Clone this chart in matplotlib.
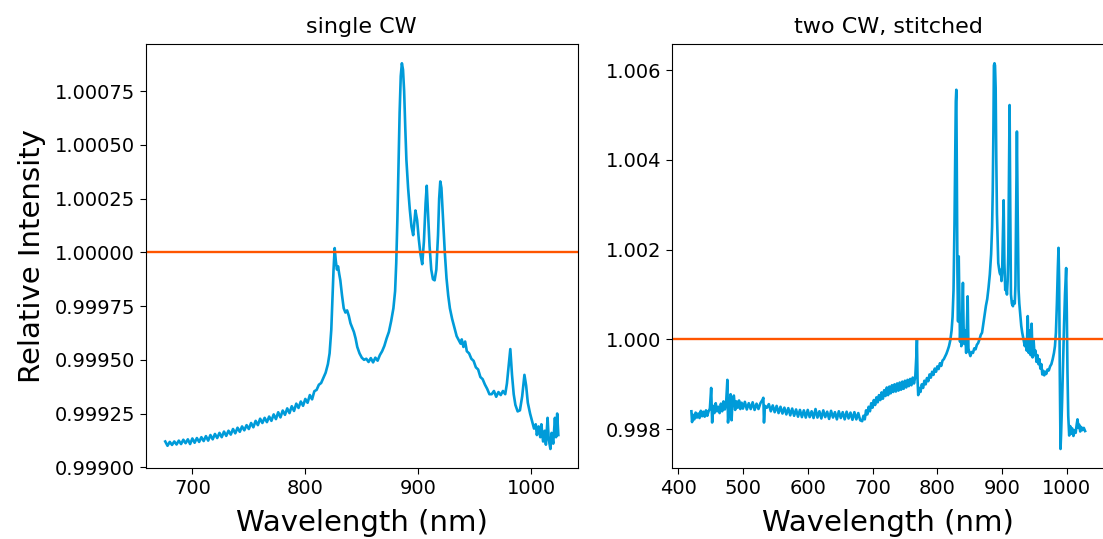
import matplotlib
matplotlib.use("Agg")
import matplotlib.pyplot as plt
from matplotlib.ticker import MultipleLocator, FormatStrFormatter

# ---------------- data ----------------
titles = ["single CW", "two CW, stitched"]
x_label = "Wavelength (nm)"
y_label = "Relative Intensity"
reference_level = 1.0

left_wavelength = [
    676, 678, 680, 682, 684, 686, 688, 690, 692, 694, 696, 698, 700, 702, 704, 706, 708, 710,
    712, 714, 716, 718, 720, 722, 724, 726, 728, 730, 732, 734, 736, 738, 740, 742, 744, 746,
    748, 750, 752, 754, 756, 758, 760, 762, 764, 766, 768, 770, 772, 774, 776, 778, 780, 782,
    784, 786, 788, 790, 792, 794, 796, 798, 800, 802, 804, 806, 808, 810, 812, 814, 816, 818,
    820, 821.5, 823, 824, 825, 826, 827, 828, 829, 830, 831, 832.5, 834, 835.5, 837, 838.5,
    840, 841.5, 843, 844.5, 846, 848, 850, 852, 854, 856, 858, 860, 862, 864, 866, 868, 870,
    872, 874, 876, 878, 879.5, 880.5, 881.5, 882.5, 883.5, 884.5, 885.5, 886.5, 887.5, 888.5,
    889.5, 891, 892.5, 894, 895.5, 897.5, 899, 900.5, 902, 903.5, 905, 906.5, 907.5, 908.5,
    910, 911.5, 913, 914.5, 916, 917.5, 918.5, 919.5, 920.5, 922, 923.5, 925, 926.5, 928, 930,
    932, 934, 936, 937.5, 938.5, 940, 941.5, 943, 945, 947, 949, 951, 953, 955, 957, 959, 961,
    963, 965, 967, 969, 971, 973, 975, 977, 978.5, 980, 981.5, 983, 984.5, 986, 988, 990, 992,
    994, 995.5, 997, 999, 1001, 1002.5, 1004, 1005, 1006.5, 1008, 1009, 1010.5, 1012, 1013,
    1014.5, 1015.5, 1017, 1018, 1019.5, 1021, 1022, 1023, 1024,
]
left_intensity = [
    0.999120, 0.999100, 0.999118, 0.999104, 0.999120, 0.999106, 0.999124, 0.999108, 0.999128,
    0.999112, 0.999130, 0.999108, 0.999134, 0.999114, 0.999136, 0.999118, 0.999140, 0.999122,
    0.999145, 0.999124, 0.999150, 0.999130, 0.999155, 0.999136, 0.999160, 0.999140, 0.999166,
    0.999146, 0.999170, 0.999152, 0.999178, 0.999158, 0.999184, 0.999165, 0.999190, 0.999172,
    0.999196, 0.999178, 0.999206, 0.999186, 0.999216, 0.999196, 0.999226, 0.999206, 0.999230,
    0.999210, 0.999236, 0.999216, 0.999246, 0.999224, 0.999256, 0.999232, 0.999264, 0.999244,
    0.999274, 0.999252, 0.999284, 0.999262, 0.999296, 0.999276, 0.999306, 0.999286, 0.999318,
    0.999300, 0.999336, 0.999316, 0.999354, 0.999360, 0.999384, 0.999392, 0.999416, 0.999440,
    0.999480, 0.999530, 0.999640, 0.999780, 0.999920, 1.000020, 0.999960, 0.999920, 0.999935,
    0.999900, 0.999870, 0.999800, 0.999740, 0.999720, 0.999730, 0.999705, 0.999670, 0.999650,
    0.999630, 0.999600, 0.999560, 0.999530, 0.999510, 0.999500, 0.999505, 0.999490, 0.999508,
    0.999488, 0.999510, 0.999496, 0.999522, 0.999540, 0.999565, 0.999600, 0.999630, 0.999680,
    0.999740, 0.999820, 0.999950, 1.000150, 1.000400, 1.000650, 1.000820, 1.000880, 1.000850,
    1.000750, 1.000580, 1.000430, 1.000300, 1.000200, 1.000120, 1.000080, 1.000195, 1.000150,
    1.000060, 0.999990, 0.999945, 1.000050, 1.000230, 1.000310, 1.000200, 1.000030, 0.999920,
    0.999875, 0.999870, 0.999920, 1.000080, 1.000250, 1.000330, 1.000300, 1.000150, 1.000000,
    0.999880, 0.999800, 0.999740, 0.999690, 0.999650, 0.999610, 0.999590, 0.999575, 0.999595,
    0.999560, 0.999585, 0.999540, 0.999530, 0.999505, 0.999495, 0.999465, 0.999455, 0.999420,
    0.999410, 0.999385, 0.999365, 0.999340, 0.999340, 0.999355, 0.999328, 0.999350, 0.999336,
    0.999355, 0.999340, 0.999390, 0.999470, 0.999550, 0.999430, 0.999340, 0.999290, 0.999260,
    0.999265, 0.999330, 0.999430, 0.999380, 0.999300, 0.999250, 0.999210, 0.999180, 0.999200,
    0.999150, 0.999190, 0.999140, 0.999200, 0.999120, 0.999170, 0.999105, 0.999230, 0.999130,
    0.999085, 0.999160, 0.999110, 0.999230, 0.999140, 0.999250, 0.999150,
]

right_wavelength = [
    420.5, 421.5, 423, 425, 427, 429, 431, 433, 435, 437, 439, 441, 443, 445, 447, 449, 451,
    452.5, 454, 456, 458, 460, 462, 464, 466, 468, 470, 472, 474, 476, 477, 479, 481, 482.5,
    484, 486, 488, 490, 492, 494, 496, 498, 500, 503, 506, 509, 512, 515, 518, 521, 524, 527,
    530, 531.5, 532.5, 534, 537, 540, 543, 546, 549, 552, 555, 558, 561, 564, 567, 570, 573,
    576, 579, 582, 585, 588, 591, 594, 597, 600, 603, 606, 609, 612, 615, 618, 621, 624, 627,
    630, 633, 636, 639, 642, 645, 648, 651, 654, 657, 660, 663, 666, 669, 672, 675, 678, 681,
    684, 686, 688, 690, 692, 694, 696, 698, 700, 702, 704, 706, 708, 710, 712, 714, 716, 718,
    720, 722, 724, 726, 728, 730, 732, 734, 736, 738, 740, 742, 744, 746, 748, 750, 752, 754,
    756, 758, 760, 762, 764, 766, 767.5, 768.5, 769.5, 770.5, 772, 774, 776, 778, 780, 782,
    784, 786, 788, 790, 792, 794, 796, 798, 800, 802, 804, 806, 808, 810, 812, 814, 816, 818,
    820, 822, 823.5, 825, 826.5, 827.5, 828.5, 829.3, 830, 831, 832, 833, 834, 835, 836, 837,
    838, 839.5, 840.5, 841.5, 843, 844.5, 846.8, 848, 849.5, 851, 853, 855, 857, 859, 861,
    863, 865, 867, 869, 871, 873, 875, 877, 879, 881, 883, 884.5, 885.5, 886.5, 887.3, 888.2,
    889, 890, 891, 892, 893, 894, 895, 896, 897, 898, 899, 900, 901, 902.3, 903.5, 904.8,
    906, 907.4, 908.5, 909.5, 910.5, 911.5, 912.5, 913.6, 915, 916.7, 918, 919.5, 920.5,
    921.5, 922.8, 924, 925.4, 926.5, 928, 929.5, 931, 933, 935, 936.5, 938, 939.5, 941,
    942.5, 944, 945.5, 947, 948.5, 950, 951.5, 953, 954.5, 956, 957.5, 959, 960.5, 962,
    963.5, 965, 966.5, 968, 970, 972, 974, 976, 978, 980, 981.5, 983, 984.5, 986, 987, 988,
    989, 990.1, 991, 992.5, 994, 995.5, 997, 998.8, 999.8, 1000.8, 1002, 1003.5, 1005,
    1006.5, 1008, 1010, 1012, 1013.5, 1015, 1016.3, 1017.8, 1019, 1020.5, 1022, 1024, 1026,
    1028,
]
right_intensity = [
    0.998400, 0.998160, 0.998320, 0.998220, 0.998370, 0.998260, 0.998350, 0.998250, 0.998410,
    0.998290, 0.998390, 0.998280, 0.998420, 0.998300, 0.998400, 0.998460, 0.998920, 0.998150,
    0.998520, 0.998360, 0.998580, 0.998400, 0.998500, 0.998360, 0.998570, 0.998400, 0.998620,
    0.998440, 0.998570, 0.999100, 0.998150, 0.998520, 0.998780, 0.998200, 0.998670, 0.998750,
    0.998430, 0.998620, 0.998480, 0.998640, 0.998450, 0.998590, 0.998460, 0.998610, 0.998440,
    0.998580, 0.998450, 0.998600, 0.998430, 0.998570, 0.998450, 0.998580, 0.998650, 0.998700,
    0.998150, 0.998520, 0.998480, 0.998560, 0.998400, 0.998530, 0.998380, 0.998520, 0.998360,
    0.998500, 0.998350, 0.998480, 0.998330, 0.998470, 0.998310, 0.998460, 0.998300, 0.998440,
    0.998280, 0.998430, 0.998270, 0.998420, 0.998260, 0.998430, 0.998270, 0.998400, 0.998250,
    0.998450, 0.998260, 0.998400, 0.998240, 0.998420, 0.998270, 0.998390, 0.998230, 0.998410,
    0.998260, 0.998380, 0.998220, 0.998400, 0.998250, 0.998380, 0.998220, 0.998390, 0.998240,
    0.998370, 0.998210, 0.998380, 0.998220, 0.998360, 0.998200,
    0.998180, 0.998300, 0.998220, 0.998420, 0.998330, 0.998500, 0.998400, 0.998580, 0.998480,
    0.998650, 0.998540, 0.998710, 0.998600, 0.998760, 0.998650, 0.998820, 0.998680, 0.998870,
    0.998740, 0.998930, 0.998760, 0.998950, 0.998800, 0.998980, 0.998830, 0.999000, 0.998840,
    0.999020, 0.998860, 0.999040, 0.998880, 0.999060, 0.998900, 0.999080, 0.998930, 0.999100,
    0.998960, 0.999120, 0.998980, 0.999150, 0.999020, 0.999180, 0.999600, 1.000000, 0.999100,
    0.998760, 0.998920, 0.998830, 0.999000, 0.998920, 0.999080, 0.999000, 0.999140, 0.999070,
    0.999220, 0.999150, 0.999280, 0.999210, 0.999350, 0.999280, 0.999400, 0.999340, 0.999470,
    0.999410, 0.999530, 0.999560, 0.999620, 0.999680, 0.999760, 0.999850, 0.999980, 1.000200,
    1.000500, 1.001100, 1.002600, 1.004000, 1.005300, 1.005560, 1.003800, 1.001500, 1.000400,
    1.001850, 1.000900, 0.999950, 1.000400, 0.999850, 1.000300, 1.001260, 1.000300, 0.999900,
    1.000200, 0.999700, 1.000960, 0.999800, 0.999700, 0.999630, 0.999720, 0.999700, 0.999800,
    0.999780, 0.999880, 0.999920, 1.000000, 1.000100, 1.000150, 1.000350, 1.000550, 1.000750,
    1.000900, 1.001150, 1.001450, 1.001900, 1.002500, 1.003300, 1.004600, 1.006100, 1.006150,
    1.006100, 1.005600, 1.004000, 1.002800, 1.002200, 1.001700, 1.001600, 1.001500, 1.001450,
    1.001550, 1.001300, 1.001500, 1.002200, 1.003100, 1.001700, 1.001100, 1.001250, 1.001000,
    1.001300, 1.001900, 1.003500, 1.005220, 1.003000, 1.001000, 1.000800, 1.000740, 1.000850,
    1.000800, 1.001200, 1.002800, 1.004630, 1.002800, 1.001100, 1.000800, 1.000550, 1.000300,
    1.000150, 1.000000, 0.999850, 1.000000, 0.999750, 1.000520, 0.999700, 1.000200, 0.999650,
    1.000350, 0.999600, 1.000000, 0.999650, 0.999750, 0.999500, 0.999650, 0.999450, 0.999560,
    0.999350, 0.999450, 0.999220, 0.999300, 0.999200, 0.999280, 0.999230, 0.999330, 0.999310,
    0.999400, 0.999450, 0.999560, 0.999700, 0.999850, 1.000150, 1.000800, 1.001600, 1.002040,
    1.001300, 0.999200, 0.997560, 0.997900, 0.998600, 0.999500, 1.000300, 1.001000, 1.001590,
    1.000600, 0.999300, 0.998300, 0.997860, 0.998070, 0.997900, 0.998020, 0.997850, 0.997980,
    0.997920, 0.998100, 0.998220, 0.998030, 0.998100, 0.997950, 0.998050, 0.997980, 0.998030,
    0.997960,
]

# ---------------- style ----------------
line_color = "#009bd9"
ref_color = "#ff5500"

fig = plt.figure(figsize=(11.03, 5.39), dpi=100)
ax_l = fig.add_axes([0.1320, 0.1312, 0.3920, 0.7872])
ax_r = fig.add_axes([0.6090, 0.1312, 0.3926, 0.7872])

ax_l.plot(left_wavelength, left_intensity, color=line_color, lw=1.9)
ax_l.axhline(reference_level, color=ref_color, lw=1.7)
ax_r.plot(right_wavelength, right_intensity, color=line_color, lw=1.9)
ax_r.axhline(reference_level, color=ref_color, lw=1.7)

ax_l.yaxis.set_major_locator(MultipleLocator(0.00025))
ax_l.yaxis.set_major_formatter(FormatStrFormatter("%.5f"))
ax_l.xaxis.set_major_locator(MultipleLocator(100))
ax_r.yaxis.set_major_locator(MultipleLocator(0.002))
ax_r.yaxis.set_major_formatter(FormatStrFormatter("%.3f"))
ax_r.xaxis.set_major_locator(MultipleLocator(100))

for ax, t in zip([ax_l, ax_r], titles):
    ax.set_title(t, fontsize=16, pad=8)
    ax.set_xlabel(x_label, fontsize=21, labelpad=8)
    ax.tick_params(labelsize=14, length=4)
ax_l.set_ylabel(y_label, fontsize=21, labelpad=6)

fig.savefig("out.png", dpi=100)
